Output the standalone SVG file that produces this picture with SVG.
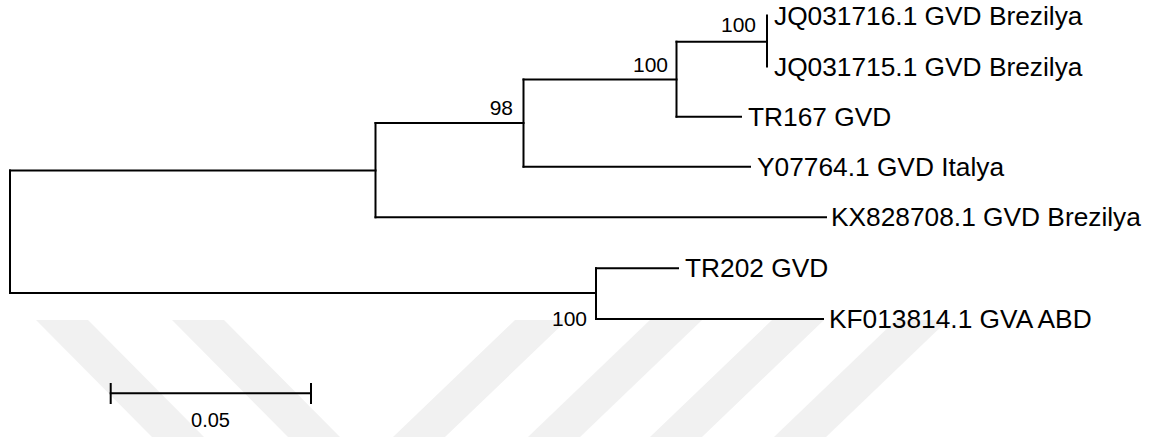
<svg xmlns="http://www.w3.org/2000/svg" width="1150" height="437" viewBox="0 0 1150 437">
  <style>
    .br { fill: none; stroke: #000; stroke-width: 2; stroke-linecap: square; }
    .tip { font-family: "Liberation Sans", Arial, sans-serif; font-size: 26.3px; fill: #000; }
    .bs { font-family: "Liberation Sans", Arial, sans-serif; font-size: 21px; fill: #000; text-anchor: end; }
    .sc { font-family: "Liberation Sans", Arial, sans-serif; font-size: 20px; fill: #000; text-anchor: middle; }
    .wm { fill: #f1f1f1; }
  </style>
  <rect width="1150" height="437" fill="#fff"/>

  <!-- background stripes -->
  <g id="stripes">
    <polygon class="wm" points="36,320 88,320 204,437 152,437"/>
    <polygon class="wm" points="172,320 224,320 340,437 288,437"/>
    <polygon class="wm" points="515,320 567,320 445,437 393,437"/>
    <polygon class="wm" points="650,320 702,320 580,437 528,437"/>
    <polygon class="wm" points="772,320 824,320 702,437 650,437"/>
    <polygon class="wm" points="896,320 948,320 826,437 774,437"/>
  </g>

  <!-- tree branches -->
  <g id="connectors">
    <path class="br" d="M10,170.5 V293"/>
    <path class="br" d="M10,170.5 H375.5"/>
    <path class="br" d="M10,293 H596"/>
    <path class="br" d="M375.5,123 V217.3"/>
    <path class="br" d="M375.5,123 H523.5"/>
    <path class="br" d="M375.5,217.3 H826"/>
    <path class="br" d="M523.5,79.5 V166.7"/>
    <path class="br" d="M523.5,79.5 H676.5"/>
    <path class="br" d="M523.5,166.7 H750"/>
    <path class="br" d="M676.5,41.7 V116.7"/>
    <path class="br" d="M676.5,41.7 H767"/>
    <path class="br" d="M676.5,116.7 H741"/>
    <path class="br" d="M767,15.5 V66.5"/>
    <path class="br" d="M596,268.3 V319"/>
    <path class="br" d="M596,268.3 H678"/>
    <path class="br" d="M596,319 H823"/>
  </g>

  <!-- leaf labels -->
  <g id="leaf-JQ031716"><text class="tip" x="774" y="24.5">JQ031716.1 GVD Brezilya</text></g>
  <g id="leaf-JQ031715"><text class="tip" x="774" y="75.5">JQ031715.1 GVD Brezilya</text></g>
  <g id="leaf-TR167"><text class="tip" x="748" y="125.7">TR167 GVD</text></g>
  <g id="leaf-Y07764"><text class="tip" x="757" y="175.7">Y07764.1 GVD Italya</text></g>
  <g id="leaf-KX828708"><text class="tip" x="831" y="226.3">KX828708.1 GVD Brezilya</text></g>
  <g id="leaf-TR202"><text class="tip" x="685" y="277.3">TR202 GVD</text></g>
  <g id="leaf-KF013814"><text class="tip" x="829" y="328">KF013814.1 GVA ABD</text></g>

  <!-- bootstrap support -->
  <g id="support">
    <text class="bs" x="756" y="32">100</text>
    <text class="bs" x="668" y="71.7">100</text>
    <text class="bs" x="513" y="115">98</text>
    <text class="bs" x="587" y="326">100</text>
  </g>

  <!-- scale bar -->
  <g id="scale-bar">
    <path class="br" d="M110.7,393.3 H311"/>
    <path class="br" d="M110.7,384 V403"/>
    <path class="br" d="M311,384 V403"/>
    <text class="sc" x="210.5" y="427.3">0.05</text>
  </g>
</svg>
